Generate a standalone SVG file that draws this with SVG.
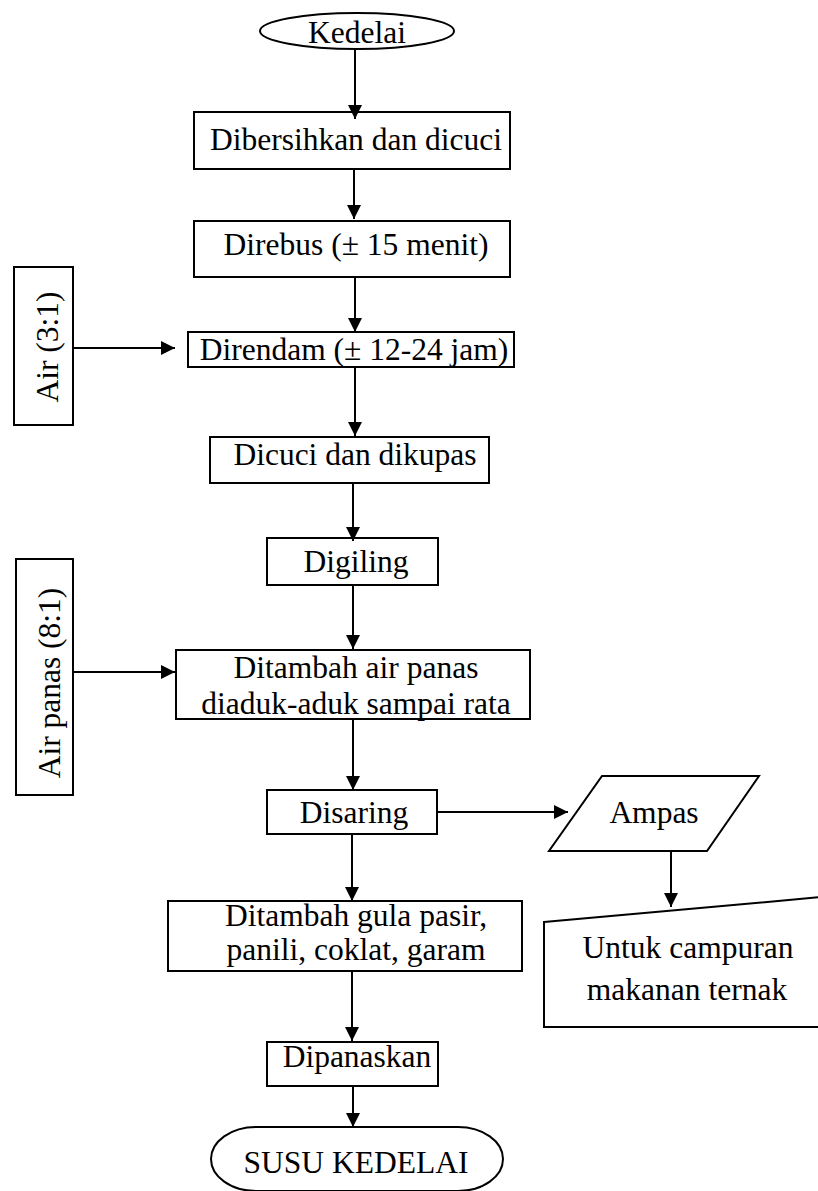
<svg xmlns="http://www.w3.org/2000/svg" width="818" height="1191" viewBox="0 0 818 1191">
<style>
.s{fill:#fff;stroke:#000;stroke-width:2}
.t{font-family:"Liberation Serif","Times New Roman",serif;font-size:31.5px;fill:#000;text-anchor:middle}
.c line{stroke:#000;stroke-width:2;marker-end:url(#ah)}
</style>
<defs>
<marker id="ah" markerUnits="userSpaceOnUse" markerWidth="15" markerHeight="15" refX="14" refY="7" orient="auto">
<path d="M0,0 L14,7 L0,14 z" fill="#000"/>
</marker>
</defs>
<rect width="818" height="1191" fill="#fff"/>
<g id="kedelai"><ellipse class="s" cx="357" cy="31" rx="97" ry="18"/><text class="t" x="357" y="43">Kedelai</text></g>
<g id="dibersihkan"><rect class="s" x="194" y="112" width="316" height="57"/><text class="t" x="356" y="150">Dibersihkan dan dicuci</text></g>
<g id="direbus"><rect class="s" x="194" y="221" width="316" height="56"/><text class="t" x="356" y="255">Direbus (± 15 menit)</text></g>
<g id="air31"><rect class="s" x="14" y="267" width="59" height="158"/><text class="t" transform="translate(58,347) rotate(-90)">Air (3:1)</text></g>
<g id="direndam"><rect class="s" x="188" y="332" width="326" height="35"/><text class="t" x="354" y="360">Direndam (± 12-24 jam)</text></g>
<g id="dicuci"><rect class="s" x="210" y="437" width="279" height="46"/><text class="t" x="355" y="465">Dicuci dan dikupas</text></g>
<g id="digiling"><rect class="s" x="267" y="538" width="171" height="47"/><text class="t" x="356" y="572">Digiling</text></g>
<g id="airpanas"><rect class="s" x="16" y="559" width="57" height="236"/><text class="t" transform="translate(60,683) rotate(-90)">Air panas (8:1)</text></g>
<g id="ditambahair"><rect class="s" x="176" y="650" width="354" height="69"/><text class="t" x="356" y="678">Ditambah air panas</text><text class="t" x="356" y="714">diaduk-aduk sampai rata</text></g>
<g id="disaring"><rect class="s" x="267" y="790" width="170" height="44"/><text class="t" x="354" y="823">Disaring</text></g>
<g id="ampas"><polygon class="s" points="602,776 759,776 707,851 549,851"/><text class="t" x="654" y="823">Ampas</text></g>
<g id="untuk"><polygon class="s" points="544,922 822,897 822,1027 544,1027"/><text class="t" x="688" y="958">Untuk campuran</text><text class="t" x="687" y="1000">makanan ternak</text></g>
<g id="ditambahgula"><rect class="s" x="168" y="901" width="354" height="70"/><text class="t" x="356" y="926">Ditambah gula pasir,</text><text class="t" x="356" y="960">panili, coklat, garam</text></g>
<g id="dipanaskan"><rect class="s" x="267" y="1042" width="171" height="44"/><text class="t" x="357" y="1067">Dipanaskan</text></g>
<g id="susu"><rect class="s" x="211" y="1127" width="292" height="64" rx="45" ry="32"/><text class="t" x="356" y="1173">SUSU KEDELAI</text></g>
<g id="connectors" class="c">
<line x1="355" y1="50" x2="355" y2="119"/>
<line x1="354" y1="169" x2="354" y2="219"/>
<line x1="355" y1="277" x2="355" y2="332"/>
<line x1="355" y1="367" x2="355" y2="436"/>
<line x1="353" y1="483" x2="353" y2="541"/>
<line x1="353" y1="585" x2="353" y2="649"/>
<line x1="353" y1="719" x2="353" y2="790"/>
<line x1="352" y1="834" x2="352" y2="901"/>
<line x1="352" y1="971" x2="352" y2="1041"/>
<line x1="353" y1="1086" x2="353" y2="1127"/>
<line x1="73" y1="348" x2="175" y2="348"/>
<line x1="73" y1="672" x2="175" y2="672"/>
<line x1="437" y1="812" x2="568" y2="812"/>
<line x1="671" y1="851" x2="671" y2="907"/>
</g>
</svg>
